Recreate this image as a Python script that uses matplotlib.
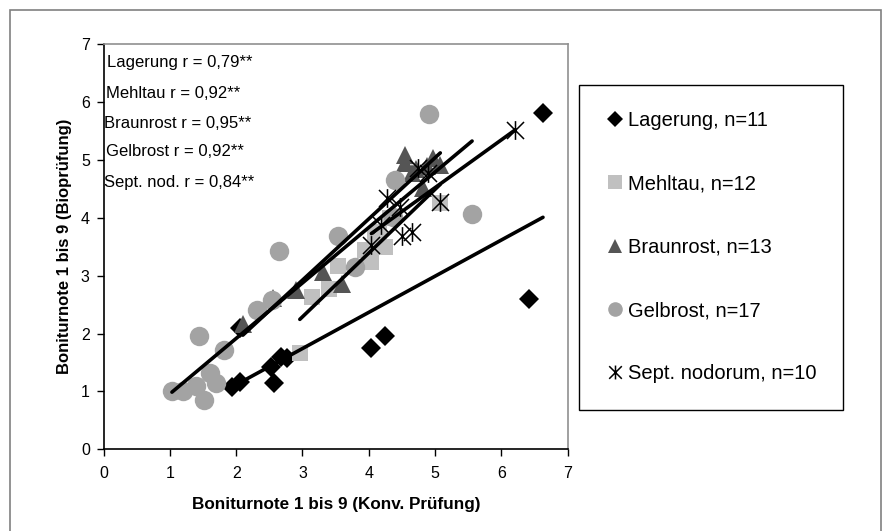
import numpy as np
import matplotlib
matplotlib.use('Agg')
import matplotlib.pyplot as plt
from matplotlib.path import Path
from matplotlib.patches import Rectangle

plt.rcParams['font.family'] = ['Liberation Sans', 'DejaVu Sans']

# ---- data ----
lag_x = [6.63, 6.42, 2.05, 4.24, 4.04, 2.67, 2.76, 2.52, 2.57, 2.06, 1.94]
lag_y = [5.82, 2.59, 2.10, 1.95, 1.75, 1.60, 1.58, 1.42, 1.15, 1.17, 1.08]

mel_x = [2.96, 3.15, 3.40, 3.53, 4.04, 4.25, 4.09, 5.08, 4.32, 4.15, 3.95, 4.10]
mel_y = [1.66, 2.64, 2.77, 3.17, 3.24, 3.49, 3.70, 4.25, 3.99, 3.75, 3.45, 3.50]

bra_x = [2.10, 2.90, 3.31, 3.59, 4.55, 4.55, 4.97, 5.08, 4.82, 4.65, 4.72, 4.88, 2.55]
bra_y = [2.17, 2.75, 3.07, 2.86, 5.08, 4.95, 5.03, 4.91, 4.51, 4.77, 4.85, 4.90, 2.62]

gel_x = [4.91, 5.56, 4.40, 4.37, 3.54, 3.80, 2.65, 2.54, 2.31, 1.44, 1.82, 1.03, 1.20, 1.51, 1.60, 1.70, 1.40]
gel_y = [5.79, 4.06, 4.66, 4.01, 3.68, 3.15, 3.43, 2.58, 2.41, 1.95, 1.72, 1.01, 1.01, 0.85, 1.32, 1.14, 1.10]

sep_x = [6.21, 5.08, 4.90, 4.75, 4.28, 4.47, 4.19, 4.04, 4.50, 4.66]
sep_y = [5.52, 4.28, 4.77, 4.86, 4.34, 4.19, 3.88, 3.53, 3.68, 3.76]

legend_labels = ['Lagerung, n=11', 'Mehltau, n=12', 'Braunrost, n=13',
                 'Gelbrost, n=17', 'Sept. nodorum, n=10']
r_texts = ['Lagerung r = 0,79**', 'Mehltau r = 0,92**', 'Braunrost r = 0,95**',
           'Gelbrost r = 0,92**', 'Sept. nod. r = 0,84**']
x_ticks = [0, 1, 2, 3, 4, 5, 6, 7]
y_ticks = [0, 1, 2, 3, 4, 5, 6, 7]

# ---- figure ----
W, H = 888, 531
fig = plt.figure(figsize=(W / 100, H / 100), dpi=100)
ax = fig.add_axes([103.7 / W, 1 - 449.2 / H, 463.8 / W, 404.8 / H])

star = Path([(-0.5, -0.5), (0.5, 0.5), (-0.5, 0.5), (0.5, -0.5), (0, -0.55), (0, 0.55)],
            [Path.MOVETO, Path.LINETO, Path.MOVETO, Path.LINETO, Path.MOVETO, Path.LINETO])

styles = [
    dict(marker='D', ms=10.5, mfc='black', mec='black', mew=0),
    dict(marker='s', ms=11, mfc='#c0c0c0', mec='#c0c0c0', mew=0),
    dict(marker='^', ms=13, mfc='#555555', mec='#555555', mew=0),
    dict(marker='o', ms=14, mfc='#a3a3a3', mec='#a3a3a3', mew=0),
    dict(marker=star, ms=13.5, mfc='none', mec='black', mew=1.1),
]
legend_ms = [8.5, 10, 10, 10.5, 10]
data = [(lag_x, lag_y), (mel_x, mel_y), (bra_x, bra_y), (gel_x, gel_y), (sep_x, sep_y)]

handles = []
for (xs, ys), st, lab in zip(data, styles, legend_labels):
    h, = ax.plot(xs, ys, linestyle='none', label=lab, zorder=2, **st)
    handles.append(h)

for xs, ys in data:
    xs_a = np.asarray(xs); ys_a = np.asarray(ys)
    k, d = np.polyfit(xs_a, ys_a, 1)
    xx = np.array([xs_a.min(), xs_a.max()])
    ax.plot(xx, k * xx + d, color='black', lw=2.6, solid_capstyle='round', zorder=3)

ax.set_xlim(0, 7)
ax.set_ylim(0, 7)
ax.set_xticks(x_ticks)
ax.set_yticks(y_ticks)
ax.tick_params(direction='out', length=5, width=1, labelsize=11.5, colors='black')
ax.tick_params(axis='x', pad=7)
ax.tick_params(axis='y', pad=5)
for s in ['left', 'bottom']:
    ax.spines[s].set_color('black')
    ax.spines[s].set_linewidth(1.2)
for s in ['top', 'right']:
    ax.spines[s].set_color('#909090')
    ax.spines[s].set_linewidth(1.2)

fig.text(336 / W, 1 - 504 / H, 'Boniturnote 1 bis 9 (Konv. Prüfung)', fontsize=12.3,
         fontweight='bold', ha='center', va='center')
fig.text(64 / W, 1 - 246 / H, 'Boniturnote 1 bis 9 (Bioprüfung)', fontsize=12,
         fontweight='bold', ha='center', va='center', rotation=90)

ys_txt = [63, 93, 123, 152, 182]
xs_txt = [107, 106, 104, 106, 104]
for t, xx, yy in zip(r_texts, xs_txt, ys_txt):
    fig.text(xx / W, 1 - yy / H, t, fontsize=12, ha='left', va='center')

leg = ax.legend(handles=handles, loc='upper left', bbox_to_anchor=(579 / W, 1 - 85 / H),
                bbox_transform=fig.transFigure, frameon=True, fancybox=False,
                edgecolor='black', framealpha=1, fontsize=14.5, labelspacing=2.2,
                borderpad=1.3, handlelength=0.95, handletextpad=0.2,
                borderaxespad=0)
leg.get_frame().set_linewidth(1.0)
for lh, m in zip(leg.legend_handles, legend_ms):
    lh.set_markersize(m)

fig.add_artist(Rectangle((10 / W, -0.05), (881 - 10) / W, 1.05 - 9.5 / H,
                         transform=fig.transFigure, fill=False, edgecolor='#808080', lw=1.2))

fig.savefig('out.png', dpi=100)
